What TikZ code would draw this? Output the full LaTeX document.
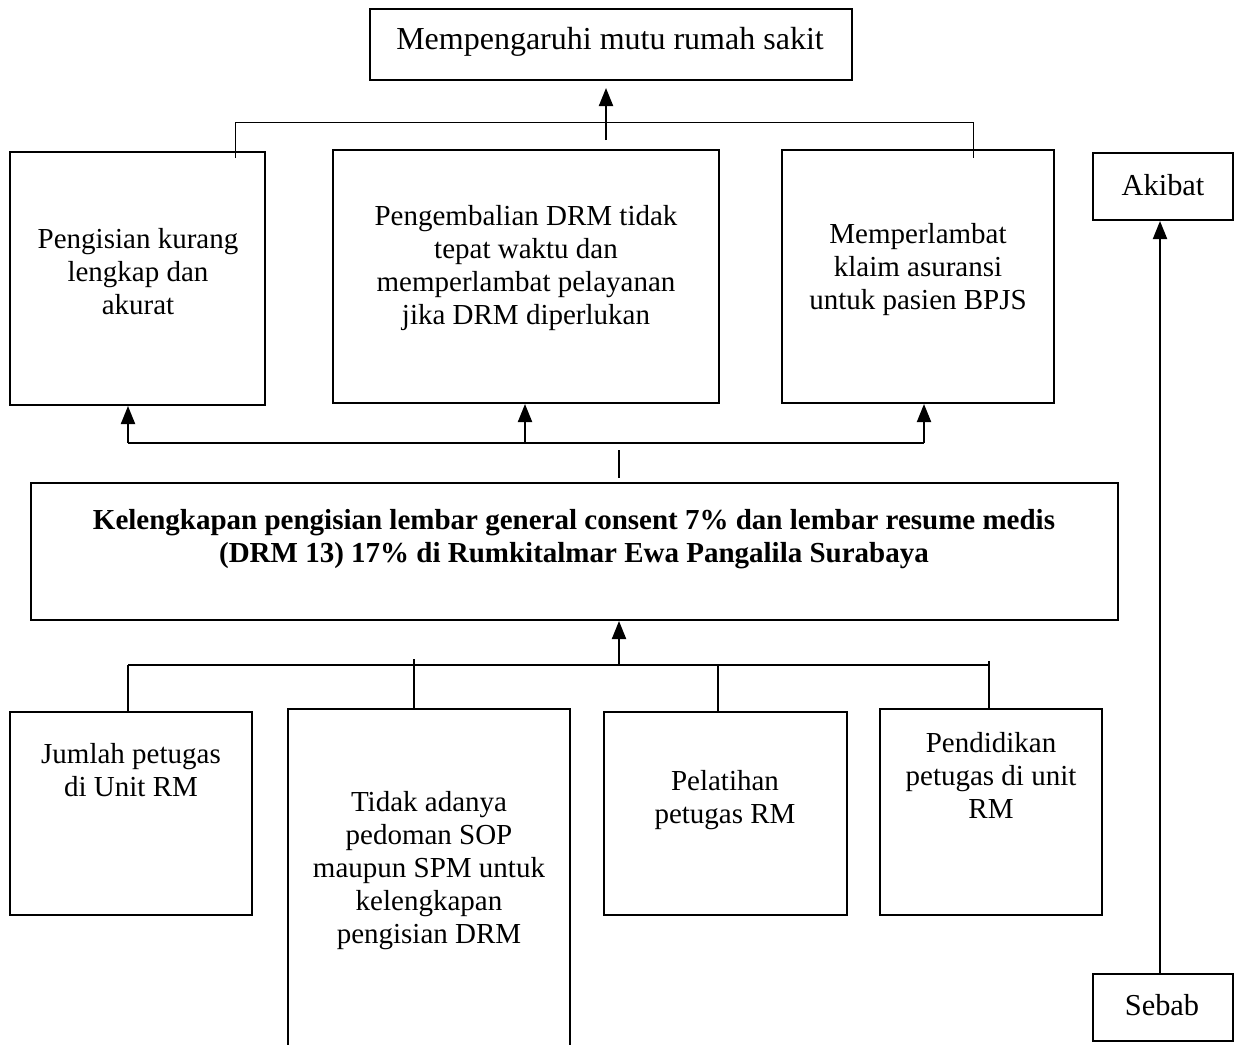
\documentclass[tikz,border=0pt]{standalone}
\usepackage{fontspec}
\setmainfont{Liberation Serif}
\usetikzlibrary{arrows.meta,fit}
\begin{document}
\begin{tikzpicture}[x=0.5pt,y=-0.5pt,
  box/.style={draw,line width=1pt,inner sep=0pt},
  txt/.style={align=center,font=\fontsize{14.5}{16.5}\selectfont,inner sep=0pt},
  arr/.style={line width=1pt,-{Triangle[width=7pt,length=9pt]}},
  thinline/.style={line width=0.5pt},
  tick/.style={line width=1pt}]
\useasboundingbox (0,0) rectangle (1234,1044);
% boxes
\node[box,fit={(370,9)(852,80)}] (top) {};
\node[box,fit={(10,152)(265,405)}] (b1) {};
\node[box,fit={(333,150)(719,403)}] (b2) {};
\node[box,fit={(782,150)(1054,403)}] (b3) {};
\node[box,fit={(31,483)(1118,620)}] (main) {};
\node[box,fit={(10,712)(252,915)}] (c1) {};
\node[box,fit={(288,709)(570,1060)}] (c2) {};
\node[box,fit={(604,712)(847,915)}] (c3) {};
\node[box,fit={(880,709)(1102,915)}] (c4) {};
\node[box,fit={(1093,153)(1233,220)}] (akibat) {};
\node[box,fit={(1093,974)(1233,1041)}] (sebab) {};
% texts
\node[txt,font=\fontsize{16}{18}\selectfont] (ttop) at (610,42) {Mempengaruhi mutu rumah sakit};
\node[txt] (tb1) at (138,272) {Pengisian kurang\\lengkap dan\\akurat};
\node[txt] (tb2) at (526,268) {Pengembalian DRM tidak\\tepat waktu dan\\memperlambat pelayanan\\jika DRM diperlukan};
\node[txt] (tb3) at (918,270) {Memperlambat\\klaim asuransi\\untuk pasien BPJS};
\node[txt,font=\fontsize{14.5}{16.5}\selectfont\bfseries] (tmain) at (574,539) {Kelengkapan pengisian lembar general consent 7\% dan lembar resume medis\\(DRM 13) 17\% di Rumkitalmar Ewa Pangalila Surabaya};
\node[txt] (tc1) at (131,770) {Jumlah petugas\\di Unit RM};
\node[txt] (tc2) at (429,871) {Tidak adanya\\pedoman SOP\\maupun SPM untuk\\kelengkapan\\pengisian DRM};
\node[txt] (tc3) at (725,800) {Pelatihan\\petugas RM};
\node[txt] (tc4) at (991,775) {Pendidikan\\petugas di unit\\RM};
\node[txt,font=\fontsize{15.2}{17}\selectfont] (takibat) at (1163,185) {Akibat};
\node[txt,font=\fontsize{15.2}{17}\selectfont] (tsebab) at (1162,1005) {Sebab};
% top connector
\coordinate (u1) at (235,158);
\coordinate (u1h) at (235,122);
\coordinate (u3h) at (973,122);
\coordinate (u3) at (973,158);
\coordinate (ua) at (606,140);
\draw[thinline] (u1) -- (u1h) -- (u3h) -- (u3);
\draw[arr,shorten >=3.5pt] (ua) -- (ua |- top.south);
% middle connector
\coordinate (m1) at (128,443);
\coordinate (m2) at (525,443);
\coordinate (m3) at (924,443);
\coordinate (mt) at (619,450);
\coordinate (mb) at (619,478);
\draw[line width=0.7pt] (m1) -- (m3);
\draw[arr] (m1) -- (m1 |- b1.south);
\draw[arr] (m2) -- (m2 |- b2.south);
\draw[arr] (m3) -- (m3 |- b3.south);
\draw[tick] (mt) -- (mb);
% lower connector
\coordinate (l1) at (128,665);
\coordinate (l2) at (414,659);
\coordinate (l3) at (718,665);
\coordinate (l4) at (989,661);
\coordinate (la) at (619,665);
\draw[line width=0.7pt] (l1) -- (l4 |- l1);
\draw[tick] (l1) -- (l1 |- c1.north);
\draw[tick] (l2) -- (l2 |- c2.north);
\draw[tick] (l3) -- (l3 |- c3.north);
\draw[tick] (l4) -- (l4 |- c4.north);
\draw[arr] (la) -- (la |- main.south);
% side arrow
\draw[arr] (sebab.north -| 1160,0) -- (akibat.south -| 1160,0);
\end{tikzpicture}
\end{document}
